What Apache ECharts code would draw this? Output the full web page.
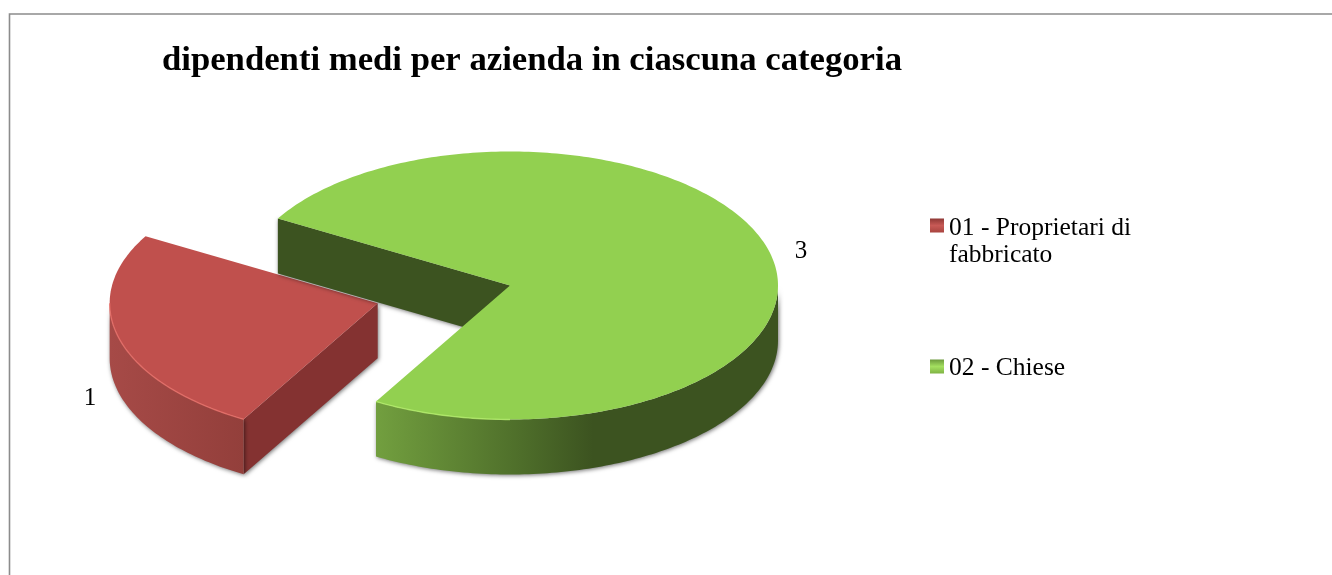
<!DOCTYPE html>
<html><head><meta charset="utf-8">
<style>html,body{margin:0;padding:0;background:#fff}#c{width:1332px;height:575px}</style>
<script src="https://cdn.jsdelivr.net/npm/echarts@6/dist/echarts.min.js"></script>
</head><body><div id="c"></div>
<script>
const categories = ['01 - Proprietari di\nfabbricato', '02 - Chiese'];
const values = [1, 3];
const titleText = 'dipendenti medi per azienda in ciascuna categoria';

const FONT = '"Liberation Serif",serif';
const pie = {cx: 510, cy: 285.5, rx: 268, ry: 134, depth: 55, startAngle: 120};
const looks = [
  {top: '#c0504d', edge: '#e8706a', side: '#843231', explode: 137, rim: [120, 180],
   wall: [[0, '#a64a47'], [1, '#933f3b']], labelPos: [90, 398],
   icon: [[0, '#8f3835'], [0.15, '#c85a56'], [0.3, '#a8443f']]},
  {top: '#92d050', edge: '#b4ee6c', side: '#3c5320', explode: 0, rim: [90, 120],
   wall: [[0, '#729f3f'], [0.36, '#4e6e2a'], [0.54, '#3c5320'], [1, '#3c5320']], labelPos: [801, 251],
   icon: [[0, '#6c9a3c'], [0.39, '#a4e060'], [0.78, '#7fb344']]}
];
const rad = d => d * Math.PI / 180;
function arc(cx, cy, from, to) {
  const n = Math.max(2, Math.round(Math.abs(to - from))), pts = [];
  for (let i = 0; i <= n; i++) {
    const a = rad(from + (to - from) * i / n);
    pts.push([cx + pie.rx * Math.cos(a), cy + pie.ry * Math.sin(a)]);
  }
  return pts;
}
const total = values.reduce((a, b) => a + b, 0);
const stops = list => list.map(s => ({offset: s[0], color: s[1]}));
const shadow = {shadowBlur: 4, shadowColor: 'rgba(0,0,0,0.55)', shadowOffsetX: 1, shadowOffsetY: 1};
function renderSlice(idx) {
  return function (params, api) {
    const look = looks[idx];
    let start = pie.startAngle;
    for (let i = 0; i < idx; i++) start += values[i] / total * 360;
    const sweep = api.value(0) / total * 360, end = start + sweep;
    const mid = rad((start + end) / 2);
    const cx = pie.cx + look.explode * Math.cos(mid);
    const cy = pie.cy + pie.ry / pie.rx * look.explode * Math.sin(mid);
    const d = pie.depth, kids = [];
    // near part of the rim
    const ranges = [];
    for (let k = 0; k <= 1; k++) {
      const lo = Math.max(start, 360 * k), hi = Math.min(end, 360 * k + 180);
      if (hi > lo) ranges.push([lo, hi]);
    }
    // the radial wall that faces the viewer
    const p = arc(cx, cy, start, start)[0];
    kids.push({type: 'polygon', shape: {points: [[cx, cy], p, [p[0], p[1] + d], [cx, cy + d]]},
      style: Object.assign({fill: look.side}, shadow)});
    ranges.forEach(r => {
      const t = arc(cx, cy, r[0], r[1]);
      const b = t.map(q => [q[0], q[1] + d]).reverse();
      const xs = t.map(q => q[0]);
      kids.push({type: 'polygon', shape: {points: t.concat(b)},
        style: Object.assign({
          fill: new echarts.graphic.LinearGradient(Math.min(...xs), 0, Math.max(...xs), 0, stops(look.wall), true)
        }, shadow)});
    });
    // top face
    kids.push({type: 'polygon', shape: {points: [[cx, cy]].concat(arc(cx, cy, start, end))}, style: {fill: look.top}});
    // highlight along the near rim
    kids.push({type: 'polyline', shape: {points: arc(cx, cy, look.rim[0], look.rim[1])},
      style: {stroke: look.edge, lineWidth: 1.4, fill: null, opacity: 0.8}});
    kids.push({type: 'text', x: look.labelPos[0], y: look.labelPos[1],
      style: {text: String(api.value(0)), font: '25px ' + FONT, fill: '#000', align: 'center', verticalAlign: 'middle'}});
    return {type: 'group', children: kids};
  };
}
const legendText = {fontFamily: FONT, fontSize: 25.5, color: '#000', lineHeight: 27};
const iconFill = i => new echarts.graphic.LinearGradient(0, 0, 0, 1, stops(looks[i].icon));
const chart = echarts.init(document.getElementById('c'), null, {renderer: 'canvas'});
chart.setOption({
  animation: false,
  backgroundColor: '#fff',
  title: {text: titleText, left: 162, top: 44, padding: 0,
    textStyle: {fontFamily: FONT, fontWeight: 'bold', fontSize: 34.7, color: '#000'}},
  legend: [
    {orient: 'vertical', left: 930, top: 215, padding: 0, itemWidth: 14, itemHeight: 47, itemGap: 0, selectedMode: false,
     data: [{name: categories[0], icon: 'path://M0 0H14V14H0Z M0 47H0.01V47H0Z', itemStyle: {color: iconFill(0), borderWidth: 0}}],
     textStyle: legendText},
    {orient: 'vertical', left: 930, top: 355, padding: 0, itemWidth: 14, itemHeight: 18, itemGap: 0, selectedMode: false,
     data: [{name: categories[1], icon: 'path://M0 0H14V14H0Z M0 18H0.01V18H0Z', itemStyle: {color: iconFill(1), borderWidth: 0}}],
     textStyle: legendText}
  ],
  graphic: [{type: 'polyline', silent: true,
    shape: {points: [[9.5, 600], [9.5, 14], [1340, 14]]},
    style: {stroke: '#8c8c8c', lineWidth: 1.6, fill: null}}],
  series: values.map((v, i) => ({
    type: 'custom', name: categories[i], coordinateSystem: 'none', silent: true,
    itemStyle: {color: looks[i].top},
    data: [[v]], renderItem: renderSlice(i)
  }))
});
</script></body></html>
